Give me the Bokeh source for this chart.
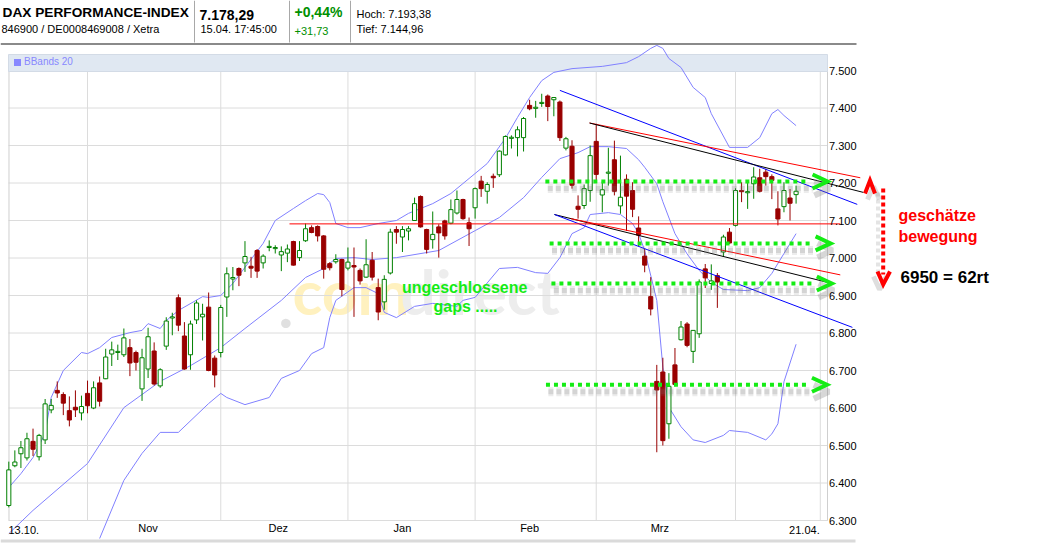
from bokeh.plotting import figure
from bokeh.models import Range1d, ColumnDataSource
from bokeh.core.properties import value
from bokeh.embed import file_html
from bokeh.resources import INLINE

# ---------------- data (trading-day index 0 = 13.10.) ----------------
opens = [6340, 6446, 6478, 6467, 6511, 6470, 6515, 6595, 6647, 6636,
         6593, 6602, 6587, 6639, 6600, 6667, 6678, 6744, 6748, 6742,
         6761, 6748, 6651, 6704, 6752, 6659, 6765, 6840, 6894, 6792,
         6742, 6835, 6843, 6869, 6733, 6748, 6896, 6944, 6972, 6987,
         6978, 7020, 6987, 7028, 7025, 7008, 7013, 7044, 7001, 7046,
         7081, 7084, 7059, 6985, 6990, 6996, 6973, 6980, 6967, 6949,
         6994, 6921, 6883, 6960, 7076, 7056, 7072, 7100, 7164, 7076,
         7049, 7083, 7099, 7093, 7120, 7156, 7094, 7134, 7205, 7178,
         7218, 7222, 7275, 7319, 7321, 7321, 7407, 7399, 7412, 7432,
         7422, 7416, 7293, 7298, 7138, 7140, 7180, 7311, 7168, 7226,
         7262, 7139, 7210, 7180, 7080, 7005, 6897, 6671, 6696, 6558,
         6715, 6782, 6824, 6751, 6798, 6971, 6932, 6953, 7016, 7069,
         7087, 7180, 7174, 7198, 7214, 7229, 7217, 7131, 7137, 7160,
         7169]
highs = [6457, 6487, 6512, 6534, 6545, 6531, 6624, 6624, 6671, 6642,
         6631, 6647, 6633, 6673, 6671, 6684, 6758, 6777, 6769, 6812,
         6784, 6753, 6758, 6814, 6775, 6706, 6842, 6854, 6903, 6829,
         6833, 6887, 6878, 6908, 6740, 6875, 6975, 6976, 6975, 7045,
         7003, 7024, 7010, 7047, 7034, 7031, 7036, 7046, 7045, 7092,
         7087, 7087, 7061, 6989, 7010, 6998, 7028, 7028, 6972, 7050,
         7016, 6945, 6954, 7078, 7085, 7085, 7085, 7161, 7167, 7078,
         7124, 7090, 7102, 7156, 7180, 7158, 7108, 7188, 7219, 7202,
         7225, 7287, 7327, 7327, 7351, 7376, 7422, 7419, 7438, 7436,
         7429, 7420, 7323, 7314, 7167, 7196, 7300, 7358, 7204, 7294,
         7313, 7273, 7223, 7202, 7111, 7025, 6949, 6715, 6734, 6693,
         6760, 6832, 6829, 6808, 6943, 6984, 6983, 6960, 7062, 7080,
         7186, 7202, 7202, 7242, 7238, 7238, 7223, 7178, 7202, 7184,
         7193]
lows = [6335, 6442, 6440, 6460, 6472, 6460, 6504, 6586, 6627, 6581,
        6551, 6576, 6567, 6586, 6597, 6604, 6677, 6712, 6728, 6736,
        6685, 6700, 6619, 6680, 6660, 6654, 6755, 6794, 6805, 6702,
        6702, 6824, 6780, 6698, 6655, 6735, 6843, 6914, 6925, 6963,
        6947, 6947, 6972, 7018, 7012, 6965, 6989, 6980, 6992, 7043,
        7066, 7044, 6945, 6967, 6985, 6898, 6967, 6843, 6929, 6947,
        6940, 6834, 6862, 6956, 7038, 7016, 7047, 7099, 7081, 7012,
        7025, 7001, 7049, 7090, 7116, 7102, 7032, 7105, 7163, 7145,
        7187, 7216, 7273, 7292, 7271, 7284, 7394, 7374, 7403, 7365,
        7378, 7312, 7287, 7185, 7105, 7131, 7150, 7207, 7122, 7193,
        7167, 7118, 7072, 7109, 7032, 6962, 6847, 6482, 6500, 6518,
        6658, 6780, 6762, 6720, 6787, 6920, 6915, 6867, 7004, 7038,
        7084, 7149, 7131, 7158, 7175, 7193, 7157, 7087, 7122, 7100,
        7145]
closes = [6435, 6456, 6494, 6518, 6490, 6527, 6611, 6607, 6640, 6613,
          6568, 6595, 6604, 6606, 6654, 6618, 6736, 6755, 6751, 6787,
          6720, 6722, 6734, 6790, 6664, 6702, 6832, 6843, 6821, 6704,
          6824, 6880, 6850, 6700, 6688, 6868, 6958, 6948, 6954, 7004,
          6973, 6965, 7005, 7031, 7028, 7017, 7024, 6981, 7020, 7078,
          7068, 7059, 6970, 6974, 6996, 6916, 6989, 6976, 6939, 6982,
          6949, 6856, 6943, 7069, 7069, 7076, 7078, 7145, 7083, 7023,
          7063, 7067, 7059, 7129, 7156, 7105, 7078, 7185, 7185, 7196,
          7214, 7285, 7324, 7322, 7342, 7372, 7398, 7402, 7415, 7404,
          7428, 7321, 7318, 7194, 7130, 7185, 7273, 7223, 7182, 7229,
          7178, 7162, 7165, 7130, 7061, 6981, 6864, 6648, 6513, 6658,
          6663, 6816, 6767, 6807, 6936, 6947, 6939, 6936, 7056, 7040,
          7180, 7177, 7177, 7216, 7178, 7217, 7207, 7104, 7180, 7146,
          7178]

# Bollinger bands (20) read at trading-day indices
bb_upper_x = [0, 2, 4, 6, 7, 9, 12, 13, 15, 17, 20, 22, 23, 25, 26, 28, 32, 33, 35, 37,
              39, 42, 44, 47, 49, 51, 52, 53, 54, 56, 58, 61, 64, 66, 70, 73, 76, 79, 82, 84,
              86, 88, 90, 93, 98, 102, 104, 106, 107, 108, 109, 111, 113, 115, 116, 119, 122, 124, 126, 127,
              128, 130]
bb_upper_y = [6388, 6425, 6468, 6532, 6628, 6700, 6748, 6745, 6761, 6788, 6801, 6807, 6825, 6812, 6833, 6860, 6897, 6895, 6900, 6932,
              6975, 7039, 7100, 7132, 7153, 7172, 7169, 7148, 7092, 7081, 7081, 7092, 7100, 7119, 7145, 7172, 7212, 7252, 7319, 7375,
              7428, 7473, 7495, 7505, 7511, 7521, 7537, 7559, 7567, 7559, 7532, 7508, 7455, 7428, 7385, 7295, 7295, 7321, 7385, 7396,
              7380, 7353]
bb_mid_x = [0, 4, 13, 19, 25, 30, 35, 39, 45, 49, 52, 54, 57, 60, 64, 71, 77, 81, 85, 88,
            91, 94, 96, 99, 102, 104, 105, 107, 108, 110, 112, 114, 116, 118, 122, 124, 126, 128, 130]
bb_mid_y = [6265, 6327, 6452, 6601, 6671, 6713, 6761, 6812, 6887, 6948, 6972, 6999, 7001, 6996, 7001, 7020, 7073, 7108, 7161, 7215,
            7265, 7281, 7297, 7297, 7292, 7262, 7242, 7198, 7150, 7065, 7011, 6967, 6935, 6916, 6913, 6921, 6959, 7012, 7065]
bb_lower_x = [15, 19, 22, 25, 28, 33, 35, 36, 39, 43, 45, 48, 50, 52, 53, 54, 57, 59, 61, 62,
              64, 67, 70, 74, 75, 77, 81, 84, 87, 89, 91, 93, 95, 96, 99, 101, 103, 104, 105, 107,
              108, 109, 111, 113, 115, 118, 119, 122, 125, 126, 127, 128, 130]
bb_lower_y = [6252, 6407, 6479, 6535, 6535, 6612, 6639, 6628, 6609, 6628, 6679, 6700, 6745, 6761, 6841, 6887, 6921, 6921, 6905, 6855,
              6841, 6871, 6879, 6871, 6887, 6895, 6972, 6975, 6961, 6959, 7001, 7065, 7081, 7116, 7121, 7116, 7092, 7065, 7020, 6887,
              6709, 6602, 6550, 6515, 6508, 6527, 6540, 6535, 6515, 6531, 6558, 6670, 6770]

# axis ticks
price_ticks = [6300, 6400, 6500, 6600, 6700, 6800, 6900, 7000, 7100, 7200, 7300, 7400, 7500]
price_tick_labels = ["6.300", "6.400", "6.500", "6.600", "6.700", "6.800", "6.900",
                     "7.000", "7.100", "7.200", "7.300", "7.400", "7.500"]
month_starts = [13, 35, 56, 77, 97, 120, 134]
month_label_pos = [23, 44.5, 65, 86, 107.5]
month_labels = ["Nov", "Dez", "Jan", "Feb", "Mrz"]
first_date_label = "13.10."
last_date_label = "21.04."

# hand-drawn trend lines: (x0, y0, x1, y1, colour)
trend_lines = [
    (91.0, 7447, 140.1, 7143, "#0000FF"),
    (95.9, 7360, 140.6, 7214, "#FF0000"),
    (95.9, 7360, 141.1, 7175, "#000000"),
    (90.1, 7116, 135.2, 6935, "#000000"),
    (92.8, 7105, 137.3, 6955, "#FF0000"),
    (90.1, 7116, 139.3, 6815, "#0000FF"),
    (46.35, 7091, 137.3, 7091, "#FF0000"),
]
# green dotted "gap" levels: price, start index, arrow tip index
gap_levels = [7204, 7039, 6932, 6662]
gap_start = [88.6, 89.3, 89.6, 88.7]
gap_tip = [135.2, 135.7, 135.9, 135.1]

# ---------------- figure ----------------
W, H = 1045, 543
PX_PER_IDX = 6.056
PX_PER_PT = 0.375
X0 = (0 - 8.3) / PX_PER_IDX
X1 = (W - 8.3) / PX_PER_IDX
Y1 = 7500 + 70 / PX_PER_PT
Y0 = 7500 - (H - 70) / PX_PER_PT
IDX_PER_PX = 1 / PX_PER_IDX
PR_PER_PX = 1 / PX_PER_PT
FRAME_L = (8 - 8.3) / PX_PER_IDX
AXIS_X = (827 - 8.3) / PX_PER_IDX
LABEL_X = (828.5 - 8.3) / PX_PER_IDX

FONT = value("Liberation Sans")
GREEN = "#008000"
RED = "#990000"
LIME = "#14EC14"
GRID = "#DCDCDC"
BAND = "#8080FF"

p = figure(width=W, height=H, output_backend="svg", toolbar_location=None,
           x_range=Range1d(X0, X1), y_range=Range1d(Y0, Y1),
           x_axis_type=None, y_axis_type=None, min_border=0,
           outline_line_color=None, background_fill_color="white",
           border_fill_color="white")
p.extra_x_ranges = {"px": Range1d(0, W)}
p.extra_y_ranges = {"px": Range1d(H, 0)}
PX = dict(x_range_name="px", y_range_name="px")

# watermark
p.text(x=[278], y=[327], text=["."], text_color="#E0E0E0", text_font=value("Lato"),
       text_font_size="62px", text_font_style="bold", **PX)
p.text(x=[292], y=[327], text=["com"], text_color="#FFF1BF", text_font=value("Lato"),
       text_font_size="62px", text_font_style="bold", **PX)
p.text(x=[400], y=[327], text=["direct"], text_color="#EDEDED", text_font=value("Lato"),
       text_font_size="62px", text_font_style="bold", **PX)

# grid
p.segment(x0=[FRAME_L] * len(price_ticks), y0=price_ticks, x1=[AXIS_X] * len(price_ticks),
          y1=price_ticks, line_color=GRID, line_width=1)
p.segment(x0=month_starts, y0=[price_ticks[0]] * len(month_starts), x1=month_starts,
          y1=[price_ticks[-1]] * len(month_starts), line_color=GRID, line_width=1)
p.segment(x0=[FRAME_L + 0.08, AXIS_X], y0=[price_ticks[0]] * 2, x1=[FRAME_L + 0.08, AXIS_X],
          y1=[price_ticks[-1]] * 2, line_color="#CFCFCF", line_width=1)
# bottom panel edge
p.segment(x0=[0], y0=[540.5], x1=[855], y1=[540.5], line_color="#DADADA", line_width=3, **PX)

# header
p.rect(x=[(8 + 827) / 2], y=[62.5], width=[819], height=[17], fill_color="#E0E8F2",
       line_color="#D3DBE6", **PX)
p.rect(x=[17], y=[62], width=[7], height=[7], fill_color="#8888FF", line_color=None, **PX)
p.text(x=[23.5], y=[66], text=["BBands 20"], text_color="#8888FF", text_font=FONT,
       text_font_size="10px", **PX)
p.segment(x0=[0], y0=[43.5], x1=[856], y1=[43.5], line_color="#8A8A8A", line_width=2, **PX)
p.segment(x0=[194, 289, 350], y0=[0, 0, 0], x1=[194, 289, 350], y1=[42, 42, 42],
          line_color="#A8A8A8", line_width=1, **PX)
p.text(x=[2], y=[19], text=["DAX PERFORMANCE-INDEX"], text_font=FONT, text_font_size="13.7px",
       text_font_style="bold", text_color="black", **PX)
p.text(x=[1], y=[34], text=["846900 / DE0008469008 / Xetra"], text_font=FONT, text_font_size="11px",
       text_color="black", **PX)
p.text(x=[199], y=[19], text=["7.178,29"], text_font=FONT, text_font_size="14px",
       text_font_style="bold", text_color="black", **PX)
p.text(x=[200], y=[34], text=["15.04. 17:45:00"], text_font=FONT, text_font_size="11px",
       text_color="black", **PX)
p.text(x=[294], y=[19], text=["+0,44%"], text_font=FONT, text_font_size="14px",
       text_font_style="bold", text_color="#009000", **PX)
p.text(x=[294], y=[34], text=["+31,73"], text_font=FONT, text_font_size="11px",
       text_color="#009000", **PX)
p.text(x=[356], y=[19.5], text=["Hoch: 7.193,38"], text_font=FONT, text_font_size="11px",
       text_color="black", **PX)
p.text(x=[356], y=[34], text=["Tief: 7.144,96"], text_font=FONT, text_font_size="11px",
       text_color="black", **PX)

# Bollinger bands
for bx, by in ((bb_upper_x, bb_upper_y), (bb_mid_x, bb_mid_y), (bb_lower_x, bb_lower_y)):
    p.line(bx, by, line_color=BAND, line_width=1)

# candles
n = len(opens)
rising = [c >= o for o, c in zip(opens, closes)]
src = ColumnDataSource(dict(
    x=list(range(n)), h=highs, l=lows,
    top=[max(o, c) for o, c in zip(opens, closes)],
    bot=[min(o, c) for o, c in zip(opens, closes)],
    col=[GREEN if r else RED for r in rising],
    fill=["white" if r else RED for r in rising],
))
p.segment(x0="x", y0="l", x1="x", y1="h", line_color="col", line_width=1, source=src)
p.vbar(x="x", width=0.68, top="top", bottom="bot", fill_color="fill", line_color="col",
       line_width=1, source=src)

# trend lines
for x0, y0, x1, y1, col in trend_lines:
    p.line([x0, x1], [y0, y1], line_color=col, line_width=1)

# green dotted gap lines with arrows and soft shadow
sh = 7 * PR_PER_PX
ah_w = 15 * IDX_PER_PX
ah_h = 7 * PR_PER_PX
for lvl, xs, xt in zip(gap_levels, gap_start, gap_tip):
    p.line([xs + 0.4, xt - ah_w], [lvl - sh, lvl - sh], line_color="#7A7A7A", line_alpha=0.14,
           line_width=9, line_dash="5 3")
    p.line([xs + 0.4, xt - ah_w], [lvl - sh, lvl - sh], line_color="#7A7A7A", line_alpha=0.2,
           line_width=5, line_dash="5 3")
    p.line([xt - ah_w + 0.3, xt + 0.3, xt - ah_w + 0.3], [lvl + ah_h - sh, lvl - sh, lvl - ah_h - sh],
           line_color="#7A7A7A", line_alpha=0.3, line_width=6)
    p.line([xs, xt - ah_w - 0.6], [lvl, lvl], line_color=LIME, line_width=4, line_dash="4 4")
    p.line([xt - ah_w, xt, xt - ah_w], [lvl + ah_h, lvl, lvl - ah_h], line_color=LIME,
           line_width=4, line_join="miter")

# y-axis labels (right)
p.text(x=[LABEL_X] * len(price_ticks), y=price_ticks, text=price_tick_labels, text_font=FONT,
       text_font_size="11px", text_color="black", y_offset=4)
# x-axis labels (x in trading days, y in pixels below the grid)
p.text(x=month_label_pos, y=[533] * len(month_labels), text=month_labels, text_font=FONT,
       text_font_size="11px", text_color="black", text_align="center", y_range_name="px")
p.text(x=[FRAME_L], y=[533], text=[first_date_label], text_font=FONT,
       text_font_size="11px", text_color="black", text_align="left", y_range_name="px")
p.text(x=[month_starts[-1] - 0.1], y=[533], text=[last_date_label], text_font=FONT,
       text_font_size="11px", text_color="black", text_align="right", y_range_name="px")

# green annotation text
p.text(x=[401.5], y=[295], text=["ungeschlossene"], text_font=FONT, text_font_size="16px",
       text_font_style="bold", text_color=LIME, **PX)
p.text(x=[433], y=[314], text=["gaps ....."], text_font=FONT, text_font_size="16px",
       text_font_style="bold", text_color=LIME, **PX)

# red estimated-move arrow (right margin)
p.line([877.5, 877.5], [192, 272], line_color="#7A7A7A", line_alpha=0.2, line_width=4,
       line_dash="4 3", **PX)
p.line([882.7, 882.7], [188, 274], line_color="#FF0000", line_width=4, line_dash="4 3", **PX)
p.line([867, 873, 879], [199, 186, 199], line_color="#7A7A7A", line_alpha=0.25, line_width=5, **PX)
p.line([864.5, 869.5, 874.5], [193, 180, 193], line_color="#FF0000", line_width=4,
       line_join="miter", **PX)
p.line([873, 879, 886], [276, 289, 276], line_color="#7A7A7A", line_alpha=0.25, line_width=5, **PX)
p.line([877, 882.7, 889.5], [271, 284, 271], line_color="#FF0000", line_width=4,
       line_join="miter", **PX)
p.text(x=[898], y=[223], text=["geschätze"], text_font=FONT, text_font_size="16px",
       text_font_style="bold", text_color="#FF0000", **PX)
p.text(x=[898], y=[244.5], text=["bewegung"], text_font=FONT, text_font_size="16px",
       text_font_style="bold", text_color="#FF0000", **PX)
p.text(x=[900], y=[286], text=["6950 = 62rt"], text_font=FONT, text_font_size="17px",
       text_font_style="bold", text_color="black", **PX)

open("out.html", "w").write(file_html(p, INLINE))
